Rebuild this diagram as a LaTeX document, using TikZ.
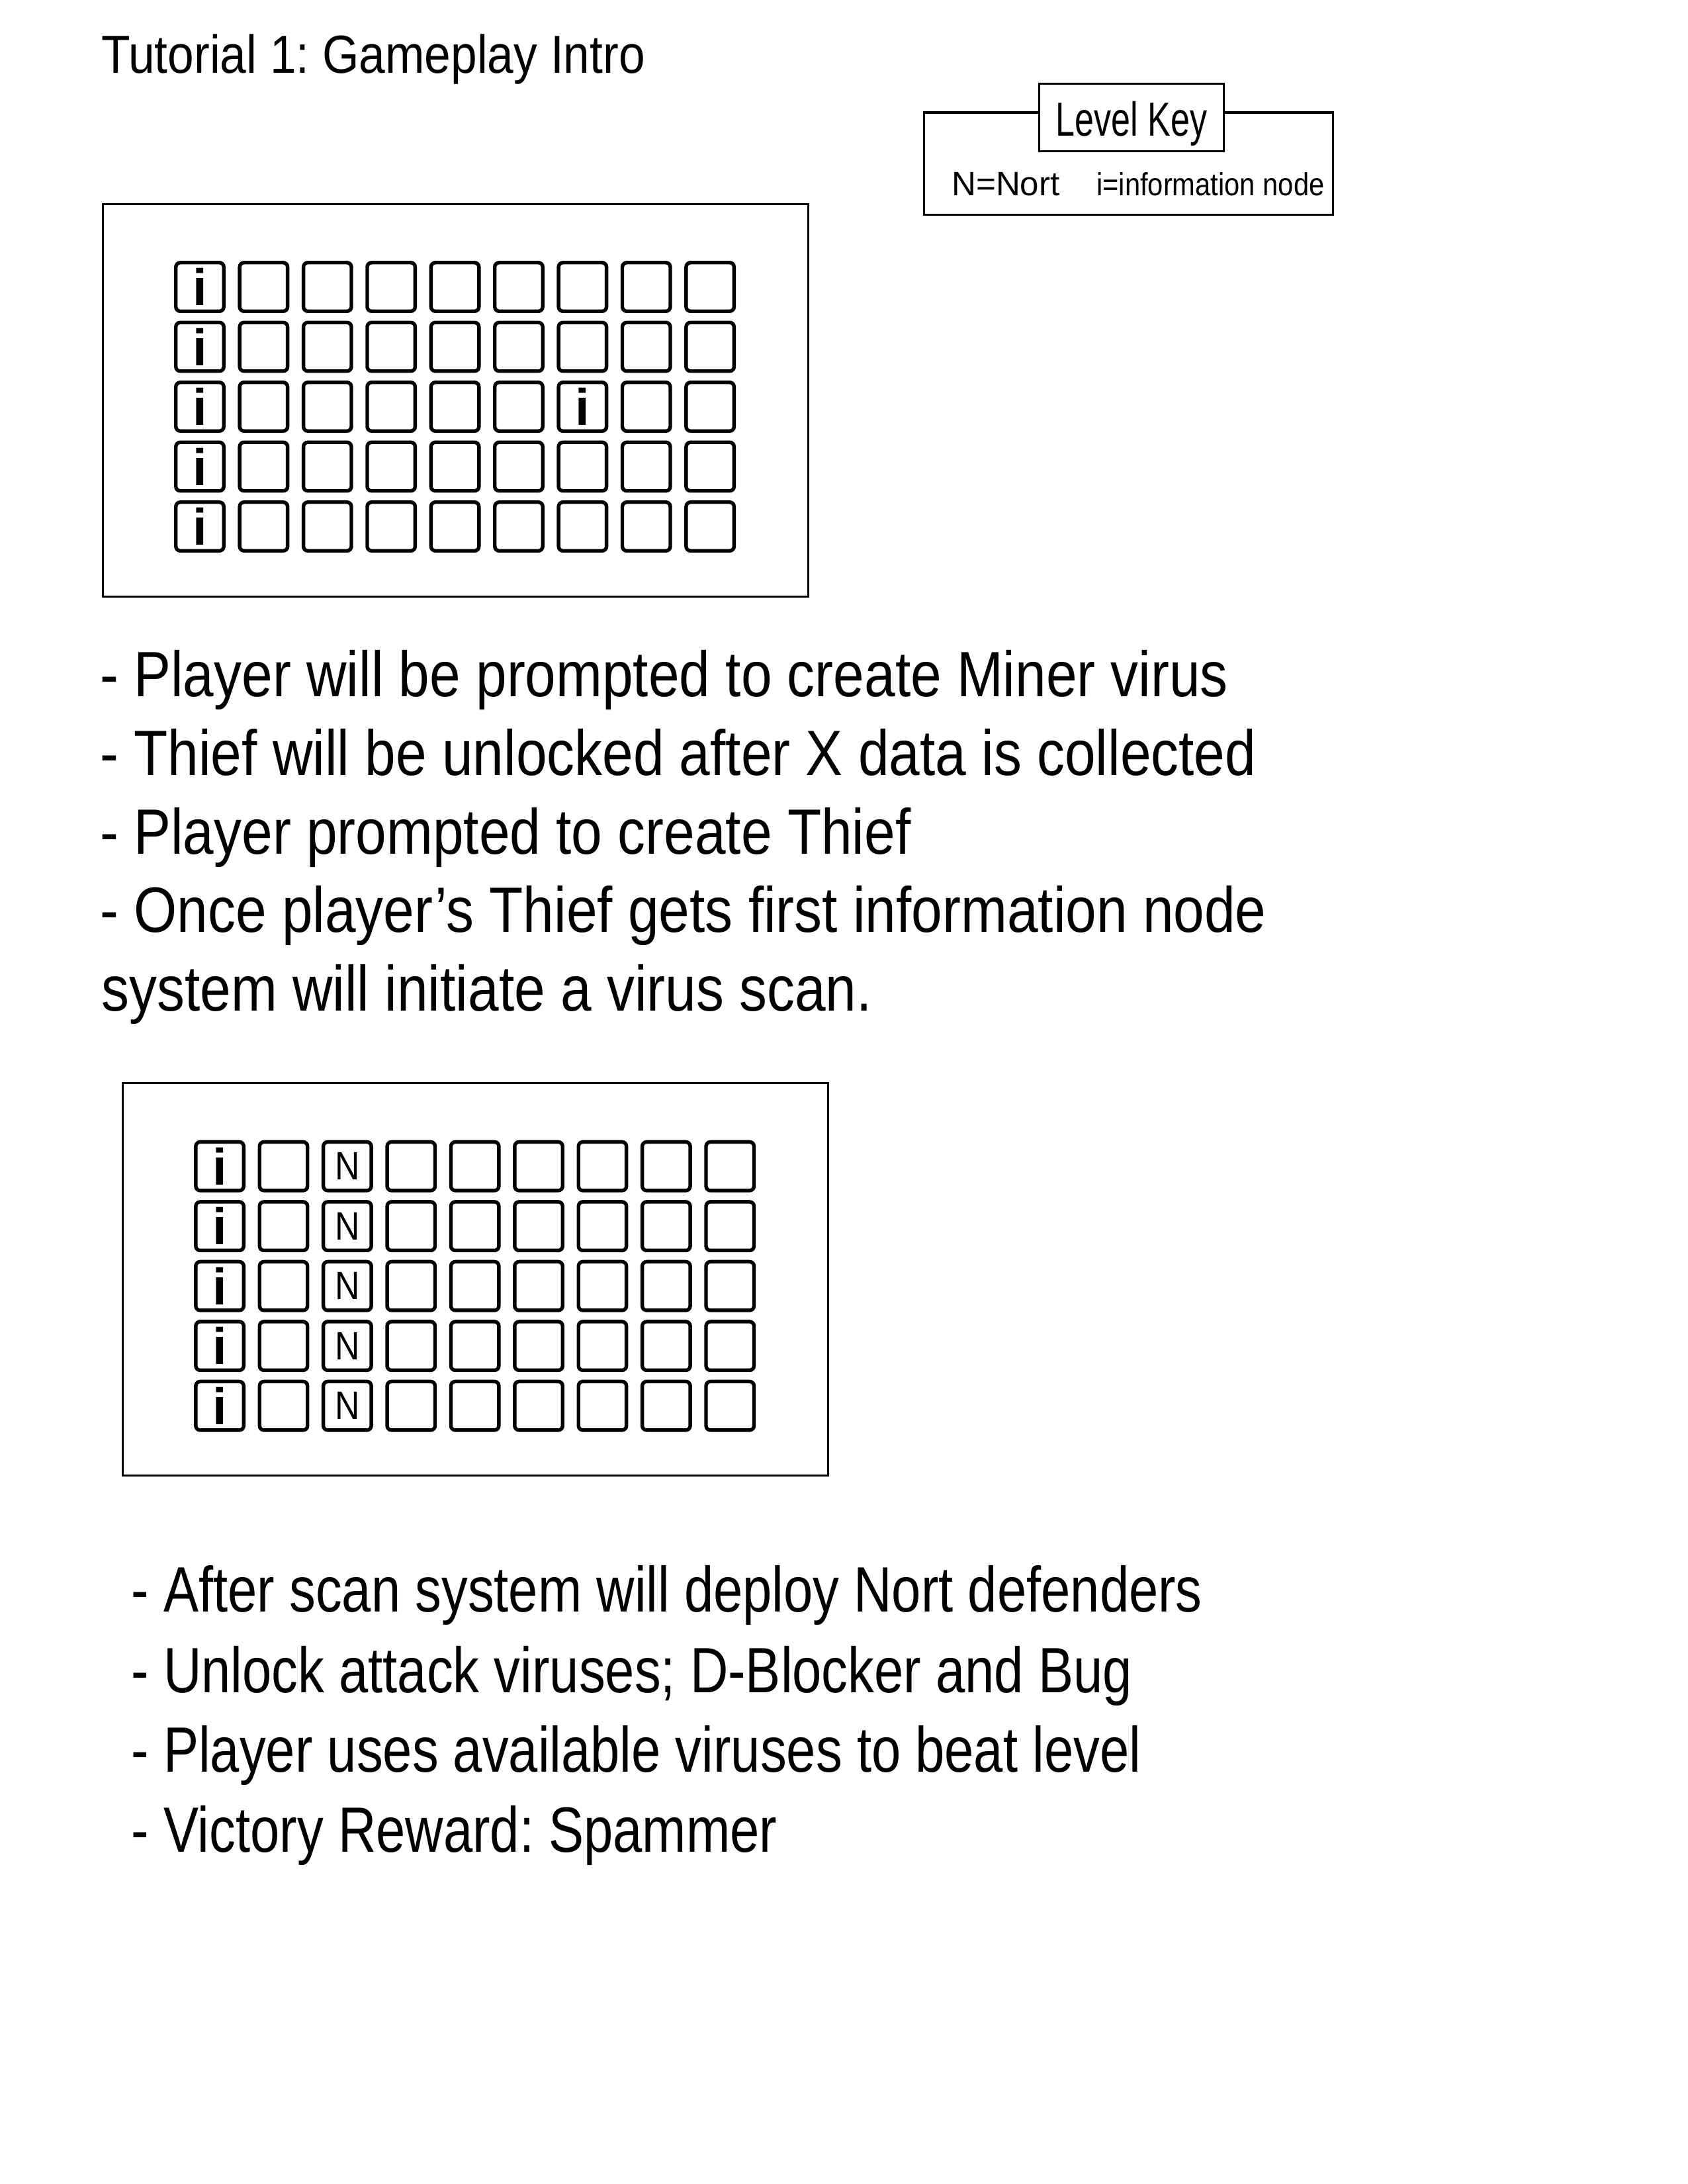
\documentclass[tikz,border=0pt]{standalone}
\usepackage{fontspec}
\usepackage{tikz}
\usetikzlibrary{positioning,calc}
\setmainfont{Liberation Sans}
\newfontfamily\narrowfont[FakeStretch=0.866]{Liberation Sans}
\newfontfamily\titlefont[FakeStretch=0.88]{Liberation Sans}
\newfontfamily\condfont[FakeStretch=0.822]{Liberation Sans}
\newfontfamily\keyfont[FakeStretch=0.72]{Liberation Sans}
\frenchspacing

\tikzset{
    cell/.style={draw,line width=1.3pt,rounded corners=1.6pt,inner sep=0pt,minimum width=0.613cm,minimum height=0.622cm},
    frame/.style={draw,line width=0.75pt},
    infotxt/.style={font=\fontsize{18.7}{18.7}\selectfont\bfseries},
    bodytxt/.style={anchor=base west,inner sep=0pt,font=\narrowfont\fontsize{23.3}{28}\selectfont},
    steptxt/.style={anchor=base west,inner sep=0pt,font=\condfont\fontsize{23.3}{28}\selectfont},
    keytxt/.style={anchor=base west,inner sep=0pt}
}

\begin{document}
\begin{tikzpicture}[x=0.017813cm,y=-0.017813cm]
    \useasboundingbox (0,0) rectangle (1212,1568);
    \node[anchor=base west,inner sep=0pt,font=\titlefont\fontsize{19.5}{22}\selectfont] (title) at (72.5,52.3) {Tutorial 1: Gameplay Intro};

    \draw[frame] (663.5,80.8) rectangle (957,154);
    \node[frame,fill=white,minimum width=2.36cm,minimum height=0.86cm,text height=14.6pt,text depth=0.8pt,inner sep=0pt,font=\keyfont\fontsize{17.4}{18}\selectfont] (keyttl) at (812.5,84.25) {Level Key};
    \node[keytxt,font=\fontsize{12.3}{14}\selectfont] (keyn) at (683,140.2) {N=Nort};
    \node[keytxt,font=\narrowfont\fontsize{11.6}{14}\selectfont] (keyi) at (787,140.2) {i=information node};

    \draw[frame] (74,146.6) rectangle (580.5,428.5);
    \foreach \r in {0,...,4}
        \foreach \c in {0,...,8}
            \node[cell,infotxt] (a-\r-\c) at (143.5+45.8*\c,206+43*\r) {\ifnum\c=0 i\else\ifnum\r\c=26 i\fi\fi};

    \node[bodytxt] (s1) at (71.5,500) {- Player will be prompted to create Miner virus};
    \node[bodytxt] (s2) at (71.5,556.5) {- Thief will be unlocked after X data is collected};
    \node[bodytxt] (s3) at (71.5,613) {- Player prompted to create Thief};
    \node[bodytxt] (s4) at (71.5,669.4) {- Once player’s Thief gets first information node};
    \node[bodytxt] (s5) at (72.5,725.7) {system will initiate a virus scan.};

    \draw[frame] (88.3,777.6) rectangle (594.8,1059.5);
    \foreach \r in {0,...,4}
        \foreach \c in {0,...,8}
            \node[cell] (b-\r-\c) at (157.8+45.8*\c,837.3+43*\r) {\ifnum\c=0 \bfseries\fontsize{18.7}{18.7}\selectfont i\else\ifnum\c=2 \narrowfont\fontsize{14.4}{14.4}\selectfont N\fi\fi};

    \node[steptxt] (t1) at (94,1157.3) {- After scan system will deploy Nort defenders};
    \node[steptxt] (t2) at (94,1215.2) {- Unlock attack viruses; D-Blocker and Bug};
    \node[steptxt] (t3) at (94,1272.2) {- Player uses available viruses to beat level};
    \node[steptxt] (t4) at (94,1329.9) {- Victory Reward: Spammer};
\end{tikzpicture}
\end{document}
